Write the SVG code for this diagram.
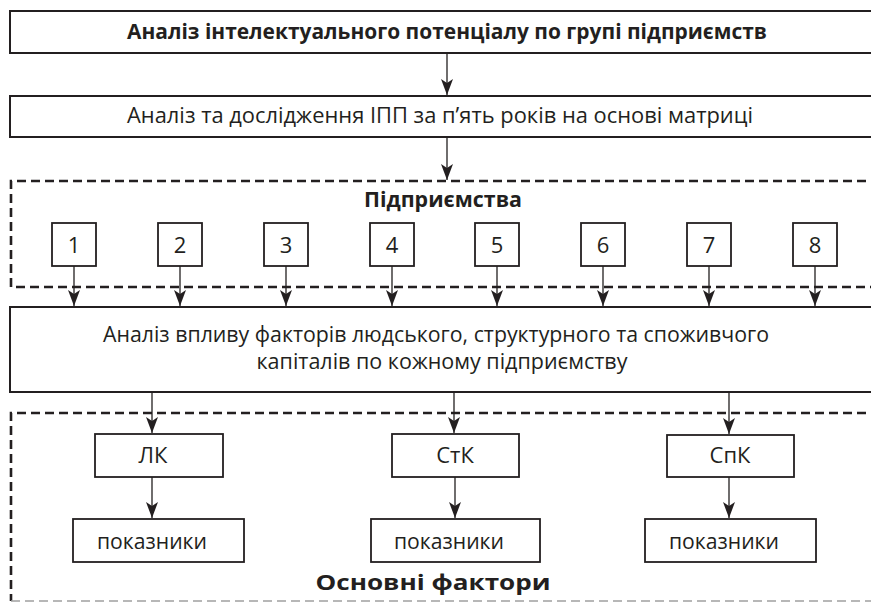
<svg xmlns="http://www.w3.org/2000/svg" width="871" height="603" viewBox="0 0 871 603">
<defs>
<style>
.box{fill:#fff;stroke:#231f20;stroke-width:2}
.sbox{fill:#fff;stroke:#231f20;stroke-width:1.8}
.dash{fill:none;stroke:#231f20;stroke-width:2.6;stroke-dasharray:9 5}
.dashg{fill:none;stroke:#a0a0a0;stroke-width:1.6;stroke-dasharray:9 5}
.t{font-family:"Open Sans","Noto Sans","Liberation Sans",sans-serif;font-size:22px;fill:#231f20}
.b{font-weight:bold}
.c{text-anchor:middle}
.con{stroke:#231f20;stroke-width:1.3;fill:none;marker-end:url(#ah)}
</style>
<marker id="ah" viewBox="0 0 12 16" refX="6" refY="16" markerWidth="12" markerHeight="16" markerUnits="userSpaceOnUse" orient="0">
<path d="M0,0 L6,4 L12,0 L6,16 z" fill="#231f20"/>
</marker>
</defs>

<g id="dash-enterprises">
<path class="dash" d="M880,181 H11 V287 H880"/>
<text class="t b c" x="443" y="207" textLength="158" lengthAdjust="spacingAndGlyphs">Підприємства</text>
</g>

<g id="dash-factors">
<path class="dash" d="M880,413 H11 V601"/>
<path class="dashg" d="M11,601 H880"/>
<text class="t b c" x="433" y="590" textLength="235" lengthAdjust="spacingAndGlyphs">Основні фактори</text>
</g>

<g id="n-top">
<rect class="box" x="10" y="11" width="880" height="42"/>
<text class="t b c" x="447" y="39" textLength="640" lengthAdjust="spacingAndGlyphs">Аналіз інтелектуального потенціалу по групі підприємств</text>
</g>

<g id="n-matrix">
<rect class="box" x="10" y="96" width="880" height="41"/>
<text class="t c" x="440" y="123" textLength="626" lengthAdjust="spacingAndGlyphs">Аналіз та дослідження ІПП за п’ять років на основі матриці</text>
</g>

<g id="n-e1"><rect class="sbox" x="52" y="223" width="44" height="43"/><text class="t c" x="74" y="253">1</text></g>
<g id="n-e2"><rect class="sbox" x="158" y="223" width="44" height="43"/><text class="t c" x="180" y="253">2</text></g>
<g id="n-e3"><rect class="sbox" x="264" y="223" width="44" height="43"/><text class="t c" x="286" y="253">3</text></g>
<g id="n-e4"><rect class="sbox" x="370" y="223" width="44" height="43"/><text class="t c" x="392" y="253">4</text></g>
<g id="n-e5"><rect class="sbox" x="475" y="223" width="44" height="43"/><text class="t c" x="497" y="253">5</text></g>
<g id="n-e6"><rect class="sbox" x="581" y="223" width="44" height="43"/><text class="t c" x="603" y="253">6</text></g>
<g id="n-e7"><rect class="sbox" x="687" y="223" width="44" height="43"/><text class="t c" x="709" y="253">7</text></g>
<g id="n-e8"><rect class="sbox" x="793" y="223" width="44" height="43"/><text class="t c" x="815" y="253">8</text></g>

<g id="n-analysis">
<rect class="box" x="10" y="307" width="880" height="85"/>
<text class="t c" x="436" y="342" textLength="666" lengthAdjust="spacingAndGlyphs">Аналіз впливу факторів людського, структурного та споживчого</text>
<text class="t c" x="442" y="369" textLength="371" lengthAdjust="spacingAndGlyphs">капіталів по кожному підприємству</text>
</g>

<g id="n-lk"><rect class="sbox" x="95" y="434" width="128" height="43"/><text class="t c" x="153" y="463">ЛК</text></g>
<g id="n-stk"><rect class="sbox" x="392" y="434" width="127" height="43"/><text class="t c" x="455" y="463">СтК</text></g>
<g id="n-spk"><rect class="sbox" x="667" y="435" width="127" height="42"/><text class="t c" x="730" y="463">СпК</text></g>

<g id="n-ind1"><rect class="sbox" x="73" y="519" width="171" height="43"/><text class="t" x="97" y="549" textLength="110" lengthAdjust="spacingAndGlyphs">показники</text></g>
<g id="n-ind2"><rect class="sbox" x="371" y="519" width="169" height="43"/><text class="t" x="394" y="549" textLength="110" lengthAdjust="spacingAndGlyphs">показники</text></g>
<g id="n-ind3"><rect class="sbox" x="645" y="519" width="171" height="43"/><text class="t" x="669" y="549" textLength="110" lengthAdjust="spacingAndGlyphs">показники</text></g>

<g id="connectors">
<line class="con" x1="447" y1="53" x2="447" y2="95"/>
<line class="con" x1="447" y1="137" x2="447" y2="180"/>
<line class="con" x1="74" y1="266" x2="74" y2="306"/>
<line class="con" x1="180" y1="266" x2="180" y2="306"/>
<line class="con" x1="286" y1="266" x2="286" y2="306"/>
<line class="con" x1="392" y1="266" x2="392" y2="306"/>
<line class="con" x1="497" y1="266" x2="497" y2="306"/>
<line class="con" x1="603" y1="266" x2="603" y2="306"/>
<line class="con" x1="709" y1="266" x2="709" y2="306"/>
<line class="con" x1="815" y1="266" x2="815" y2="306"/>
<line class="con" x1="152" y1="392" x2="152" y2="433"/>
<line class="con" x1="454" y1="392" x2="454" y2="433"/>
<line class="con" x1="729" y1="392" x2="729" y2="434"/>
<line class="con" x1="152" y1="477" x2="152" y2="518"/>
<line class="con" x1="455" y1="477" x2="455" y2="518"/>
<line class="con" x1="729" y1="477" x2="729" y2="518"/>
</g>
</svg>
